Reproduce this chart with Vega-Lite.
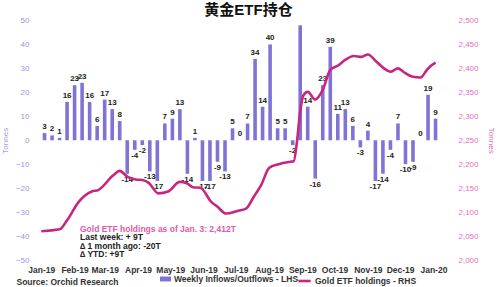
{
  "$schema": "https://vega.github.io/schema/vega-lite/v6.json",
  "width": 415,
  "height": 239.5,
  "autosize": {"type": "none"},
  "padding": {"left": 32, "top": 20.5, "right": 53, "bottom": 27},
  "background": "white",
  "title": {
    "text": "黄金ETF持仓",
    "font": "Liberation Sans, Noto Sans CJK SC",
    "fontSize": 15,
    "fontWeight": "bold",
    "color": "#111111",
    "anchor": "middle",
    "dx": 9,
    "offset": -3
  },
  "config": {
    "view": {"stroke": null},
    "font": "Liberation Sans",
    "axis": {"grid": false, "domain": false, "ticks": false, "labelOverlap": false}
  },
  "datasets": {
    "flows": [
      {"date": "2019-01-04", "value": 3, "label": "3"},
      {"date": "2019-01-11", "value": 2, "label": "2"},
      {"date": "2019-01-18", "value": 1, "label": "1"},
      {"date": "2019-01-25", "value": 16, "label": "16"},
      {"date": "2019-02-01", "value": 23, "label": "23"},
      {"date": "2019-02-08", "value": 24, "label": "23"},
      {"date": "2019-02-15", "value": 16, "label": "16"},
      {"date": "2019-02-22", "value": 6, "label": "6"},
      {"date": "2019-03-01", "value": 17, "label": "17"},
      {"date": "2019-03-08", "value": 13, "label": "13"},
      {"date": "2019-03-15", "value": 8, "label": "8"},
      {"date": "2019-03-22", "value": -14, "label": "-14"},
      {"date": "2019-03-29", "value": -4, "label": "-4"},
      {"date": "2019-04-05", "value": -2, "label": "-2"},
      {"date": "2019-04-12", "value": -13, "label": "-13"},
      {"date": "2019-04-19", "value": -17, "label": "-17"},
      {"date": "2019-04-26", "value": 7, "label": "7"},
      {"date": "2019-05-03", "value": 9, "label": "9"},
      {"date": "2019-05-10", "value": 13, "label": "13"},
      {"date": "2019-05-17", "value": -14, "label": "-14"},
      {"date": "2019-05-24", "value": 1, "label": "1"},
      {"date": "2019-05-31", "value": -17, "label": "-17"},
      {"date": "2019-06-07", "value": -17, "label": "-17"},
      {"date": "2019-06-14", "value": -9, "label": "-9"},
      {"date": "2019-06-21", "value": -13, "label": "-13"},
      {"date": "2019-06-28", "value": 5, "label": "5"},
      {"date": "2019-07-05", "value": 0, "label": "0"},
      {"date": "2019-07-12", "value": 7, "label": "7"},
      {"date": "2019-07-19", "value": 34, "label": "34"},
      {"date": "2019-07-26", "value": 14, "label": "14"},
      {"date": "2019-08-02", "value": 40, "label": "40"},
      {"date": "2019-08-09", "value": 5, "label": "5"},
      {"date": "2019-08-16", "value": 5, "label": "5"},
      {"date": "2019-08-23", "value": -2, "label": "-2"},
      {"date": "2019-08-30", "value": 48, "label": ""},
      {"date": "2019-09-06", "value": 14, "label": "14"},
      {"date": "2019-09-13", "value": -16, "label": "-16"},
      {"date": "2019-09-20", "value": 23, "label": "23"},
      {"date": "2019-09-27", "value": 39, "label": "39"},
      {"date": "2019-10-04", "value": 11, "label": "11"},
      {"date": "2019-10-11", "value": 13, "label": "13"},
      {"date": "2019-10-18", "value": 6, "label": "6"},
      {"date": "2019-10-25", "value": -3, "label": "-3"},
      {"date": "2019-11-01", "value": 4, "label": "4"},
      {"date": "2019-11-08", "value": -17, "label": "-17"},
      {"date": "2019-11-15", "value": -14, "label": "-14"},
      {"date": "2019-11-22", "value": -4, "label": "-4"},
      {"date": "2019-11-29", "value": 7, "label": "7"},
      {"date": "2019-12-06", "value": -10, "label": "-10"},
      {"date": "2019-12-13", "value": -9, "label": "-9"},
      {"date": "2019-12-20", "value": 0, "label": "0"},
      {"date": "2019-12-27", "value": 19, "label": "19"},
      {"date": "2020-01-03", "value": 9, "label": "9"}
    ],
    "holdings": [
      {"date": "2019-01-01", "value": 2060},
      {"date": "2019-01-18", "value": 2064},
      {"date": "2019-01-25", "value": 2083},
      {"date": "2019-02-05", "value": 2122},
      {"date": "2019-02-17", "value": 2143},
      {"date": "2019-02-23", "value": 2146},
      {"date": "2019-03-09", "value": 2177},
      {"date": "2019-03-15", "value": 2186},
      {"date": "2019-03-22", "value": 2174},
      {"date": "2019-03-30", "value": 2168},
      {"date": "2019-04-05", "value": 2167},
      {"date": "2019-04-11", "value": 2161},
      {"date": "2019-04-20", "value": 2139},
      {"date": "2019-04-29", "value": 2143},
      {"date": "2019-05-10", "value": 2163},
      {"date": "2019-05-16", "value": 2161},
      {"date": "2019-05-22", "value": 2152},
      {"date": "2019-05-29", "value": 2151},
      {"date": "2019-06-08", "value": 2122},
      {"date": "2019-06-14", "value": 2111},
      {"date": "2019-06-22", "value": 2097},
      {"date": "2019-07-02", "value": 2102},
      {"date": "2019-07-11", "value": 2108},
      {"date": "2019-07-17", "value": 2129},
      {"date": "2019-07-25", "value": 2158},
      {"date": "2019-08-01", "value": 2192},
      {"date": "2019-08-10", "value": 2200},
      {"date": "2019-08-21", "value": 2205},
      {"date": "2019-08-24", "value": 2206},
      {"date": "2019-08-27", "value": 2247},
      {"date": "2019-08-30", "value": 2310},
      {"date": "2019-09-02", "value": 2344},
      {"date": "2019-09-06", "value": 2351},
      {"date": "2019-09-13", "value": 2335},
      {"date": "2019-09-20", "value": 2355},
      {"date": "2019-09-27", "value": 2397},
      {"date": "2019-10-05", "value": 2407},
      {"date": "2019-10-11", "value": 2418},
      {"date": "2019-10-19", "value": 2426},
      {"date": "2019-10-26", "value": 2424},
      {"date": "2019-11-01", "value": 2429},
      {"date": "2019-11-09", "value": 2414},
      {"date": "2019-11-16", "value": 2400},
      {"date": "2019-11-22", "value": 2393},
      {"date": "2019-11-29", "value": 2400},
      {"date": "2019-12-04", "value": 2393},
      {"date": "2019-12-12", "value": 2383},
      {"date": "2019-12-20", "value": 2381},
      {"date": "2019-12-26", "value": 2397},
      {"date": "2019-12-29", "value": 2404},
      {"date": "2020-01-03", "value": 2412}
    ],
    "notes": [
      {"date": "2019-02-06", "value": -37, "text": "Gold ETF holdings as of Jan. 3: 2,412T", "kind": "head"},
      {"date": "2019-02-06", "value": -40.6, "text": "Last week: + 9T", "kind": "body"},
      {"date": "2019-02-06", "value": -44.1, "text": "∆ 1 month ago: -20T", "kind": "body"},
      {"date": "2019-02-06", "value": -47.6, "text": "∆ YTD: +9T", "kind": "body"}
    ]
  },
  "encoding": {
    "x": {
      "field": "date", "type": "temporal",
      "scale": {"domain": [{"year": 2018, "month": 12, "date": 28}, {"year": 2020, "month": 1, "date": 9}]},
      "axis": {
        "format": "%b-%y",
        "tickCount": {"interval": "month", "step": 1},
        "labelFontSize": 8.5,
        "labelFontWeight": "bold",
        "labelColor": "#333333",
        "labelPadding": 5,
        "labelFlush": false,
        "title": "Source: Orchid Research",
        "titleAnchor": "start",
        "titleAlign": "left",
        "titleBaseline": "middle",
        "titleX": -16,
        "titleY": 21.5,
        "titleFontSize": 8.5,
        "titleFontWeight": "bold",
        "titleColor": "#333333"
      }
    }
  },
  "layer": [
    {
      "encoding": {
        "y": {
          "field": "value", "type": "quantitative",
          "scale": {"domain": [-50, 50], "nice": false},
          "axis": {
            "values": [-50, -40, -30, -20, -10, 0, 10, 20, 30, 40, 50],
            "labelFontSize": 8,
            "labelColor": "#9f96d8",
            "labelPadding": 3,
            "title": "Tonnes",
            "titleFontSize": 8,
            "titleFontWeight": "normal",
            "titleColor": "#a59ddb",
            "titlePadding": 6
          }
        }
      },
      "layer": [
        {
          "data": {"name": "flows"},
          "mark": {"type": "bar", "size": 3.6},
          "encoding": {
            "fill": {
              "datum": "Weekly Inflows/Outflows - LHS",
              "scale": {"range": ["#7f73d8"]},
              "legend": {
                "orient": "none", "legendX": 128, "legendY": 253,
                "title": null,
                "symbolType": "M-1,-0.45H1V0.45H-1Z",
                "symbolSize": 120,
                "symbolStrokeWidth": 0,
                "labelFontSize": 8.5,
                "labelFontWeight": "bold",
                "labelColor": "#333333",
                "labelOffset": 3
              }
            }
          }
        },
        {
          "data": {"name": "flows"},
          "transform": [{"filter": "datum.value >= 0"}],
          "mark": {"type": "text", "baseline": "bottom", "dy": -2, "fontSize": 8, "fontWeight": "bold", "color": "#222222"},
          "encoding": {
            "text": {"field": "label"}
          }
        },
        {
          "data": {"name": "flows"},
          "transform": [{"filter": "datum.value < 0"}],
          "mark": {"type": "text", "baseline": "top", "dy": 2, "fontSize": 8, "fontWeight": "bold", "color": "#222222"},
          "encoding": {
            "text": {"field": "label"}
          }
        },
        {
          "data": {"name": "notes"},
          "mark": {"type": "text", "align": "left", "baseline": "middle", "fontSize": 8.5, "fontWeight": "bold"},
          "encoding": {
            "text": {"field": "text"},
            "color": {
              "field": "kind", "type": "nominal",
              "scale": {"domain": ["head", "body"], "range": ["#e05aa8", "#222222"]},
              "legend": null
            }
          }
        }
      ]
    },
    {
      "data": {"name": "holdings"},
      "mark": {"type": "line", "strokeWidth": 2.6, "interpolate": "monotone"},
      "encoding": {
        "y": {
          "field": "value", "type": "quantitative",
          "scale": {"domain": [2000, 2500], "nice": false},
          "axis": {
            "values": [2000, 2050, 2100, 2150, 2200, 2250, 2300, 2350, 2400, 2450, 2500],
            "format": ",d",
            "labelFontSize": 8,
            "labelColor": "#e070c0",
            "labelPadding": 11,
            "title": "Tonnes",
            "titleFontSize": 8,
            "titleFontWeight": "normal",
            "titleColor": "#e070c0",
            "titlePadding": 8
          }
        },
        "stroke": {
          "datum": "Gold ETF holdings - RHS",
          "scale": {"range": ["#c8267e"]},
          "legend": {
            "orient": "none", "legendX": 265, "legendY": 253,
            "title": null,
            "symbolType": "stroke",
            "symbolSize": 150,
            "symbolStrokeWidth": 2.6,
            "labelFontSize": 8.5,
            "labelFontWeight": "bold",
            "labelColor": "#333333",
            "labelOffset": 3
          }
        }
      }
    }
  ],
  "resolve": {"scale": {"y": "independent"}}
}
